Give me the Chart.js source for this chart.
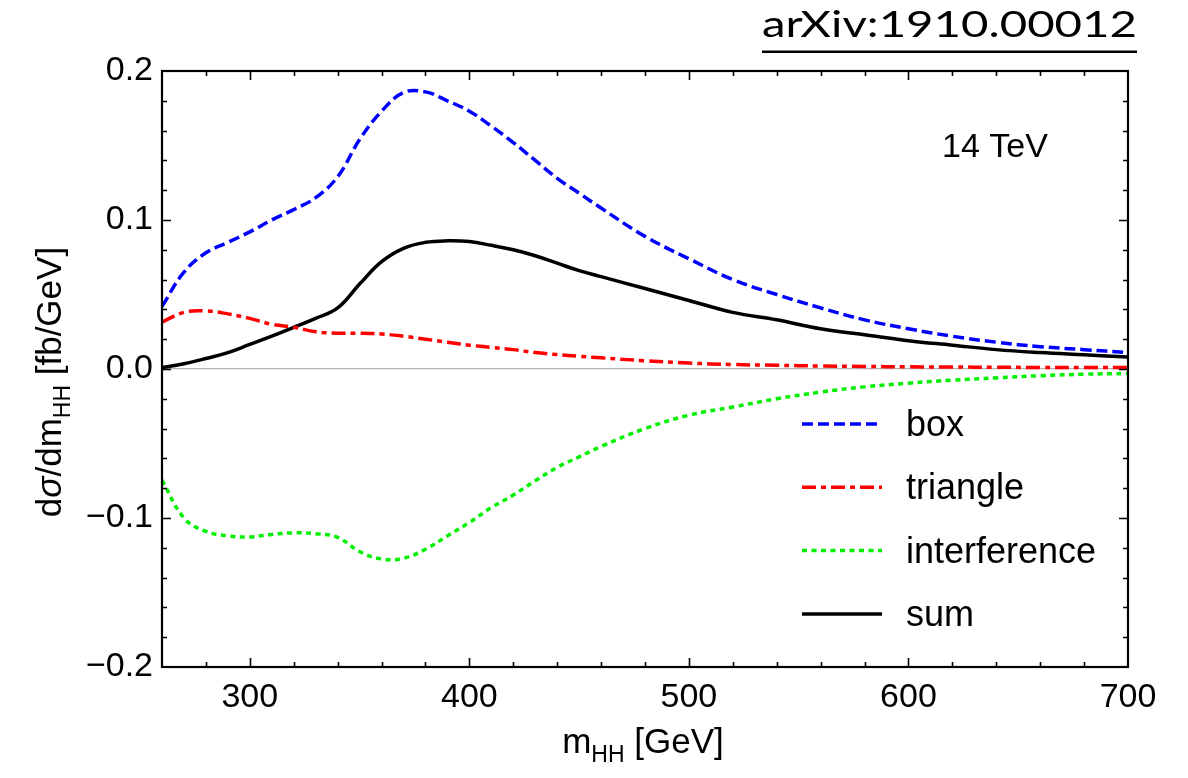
<!DOCTYPE html>
<html>
<head>
<meta charset="utf-8">
<script src="https://cdn.jsdelivr.net/npm/chart.js@4.4.1/dist/chart.umd.min.js"></script>
<style>
  html, body { margin: 0; padding: 0; background: #fff; }
  #wrap { width: 1188px; height: 778px; }
</style>
</head>
<body>
<div id="wrap"><canvas id="chart" width="1188" height="778"></canvas></div>
<script>
// m_HH in GeV
const masses = [260, 270, 280, 290, 300, 310, 320, 330, 340, 350, 360, 370, 380, 390, 400,
  410, 420, 430, 440, 450, 460, 480, 500, 520, 540, 560, 580, 600, 620, 640, 660, 680, 700];

// dsigma/dm_HH in fb/GeV
const box = [0.042, 0.065, 0.078, 0.085, 0.092, 0.100, 0.107, 0.115, 0.129, 0.154, 0.173, 0.1855, 0.186,
  0.180, 0.173, 0.163, 0.152, 0.140, 0.128, 0.118, 0.108, 0.089, 0.074, 0.060, 0.050, 0.041, 0.033,
  0.027, 0.022, 0.018, 0.015, 0.013, 0.011];
const triangle = [0.0315, 0.038, 0.039, 0.037, 0.034, 0.030, 0.028, 0.025, 0.024, 0.024, 0.0235, 0.022,
  0.020, 0.018, 0.016, 0.0145, 0.013, 0.011, 0.0097, 0.0085, 0.0075, 0.0055, 0.004, 0.003, 0.0025,
  0.002, 0.0017, 0.0015, 0.0013, 0.0012, 0.001, 0.001, 0.001];
const interference = [-0.0745, -0.100, -0.109, -0.112, -0.1127, -0.111, -0.110, -0.1105, -0.113,
  -0.1225, -0.1275, -0.127, -0.121, -0.112, -0.103, -0.093, -0.0846, -0.075, -0.066, -0.059, -0.052,
  -0.040, -0.031, -0.0255, -0.020, -0.0155, -0.012, -0.0095, -0.0075, -0.006, -0.0045, -0.0035, -0.003];
const sum = [0.001, 0.0035, 0.007, 0.011, 0.0165, 0.022, 0.028, 0.034, 0.041, 0.057, 0.072, 0.081,
  0.085, 0.086, 0.0855, 0.083, 0.080, 0.076, 0.071, 0.066, 0.062, 0.054, 0.046, 0.038, 0.033, 0.027,
  0.023, 0.019, 0.016, 0.013, 0.011, 0.0095, 0.008];

const seriesNames = ["box", "triangle", "interference", "sum"];
const xMajor = [300, 400, 500, 600, 700];
const yMajor = [-0.2, -0.1, 0.0, 0.1, 0.2];

const FONT = "'Liberation Sans', Arial, Helvetica, sans-serif";

function pts(vals) {
  return masses.map((m, i) => ({ x: m, y: vals[i] }));
}

function isMajor(v, list) {
  return list.some((t) => Math.abs(t - v) < 1e-6);
}

// draws pieces of text one after the other, centered on x
function drawPieces(ctx, pieces, x, y) {
  let w = 0;
  pieces.forEach((p) => { ctx.font = p.font; w += ctx.measureText(p.t).width; });
  let cx = x - w / 2;
  pieces.forEach((p) => {
    ctx.font = p.font;
    ctx.fillText(p.t, cx, y + (p.dy || 0));
    cx += ctx.measureText(p.t).width;
  });
}

const framePlugin = {
  id: "frame",
  afterDraw(chart) {
    const ctx = chart.ctx;
    const a = chart.chartArea;
    const xs = chart.scales.x, ys = chart.scales.y;
    ctx.save();

    // inward ticks on all four sides
    ctx.strokeStyle = "#000";
    ctx.lineWidth = 1.6;
    ctx.beginPath();
    xs.ticks.forEach((t) => {
      if (t.value <= xs.min || t.value >= xs.max) return;
      const px = Math.round(xs.getPixelForValue(t.value)) + 0.5;
      const len = isMajor(t.value, xMajor) ? 9 : 5;
      ctx.moveTo(px, a.bottom); ctx.lineTo(px, a.bottom - len);
      ctx.moveTo(px, a.top); ctx.lineTo(px, a.top + len);
    });
    ys.ticks.forEach((t) => {
      if (t.value <= ys.min + 1e-9 || t.value >= ys.max - 1e-9) return;
      const py = Math.round(ys.getPixelForValue(t.value)) + 0.5;
      const len = isMajor(t.value, yMajor) ? 9 : 5;
      ctx.moveTo(a.left, py); ctx.lineTo(a.left + len, py);
      ctx.moveTo(a.right, py); ctx.lineTo(a.right - len, py);
    });
    ctx.stroke();

    // frame
    ctx.lineWidth = 2.2;
    ctx.strokeRect(a.left, a.top, a.right - a.left, a.bottom - a.top);

    // legend
    ctx.textAlign = "left";
    ctx.textBaseline = "alphabetic";
    ctx.fillStyle = "#000";
    chart.data.datasets.forEach((ds, i) => {
      const y = 424 + i * 63.3;
      ctx.strokeStyle = ds.borderColor;
      ctx.lineWidth = ds.borderWidth;
      ctx.setLineDash(ds.borderDash || []);
      ctx.beginPath();
      ctx.moveTo(802, y); ctx.lineTo(882, y);
      ctx.stroke();
      ctx.setLineDash([]);
      ctx.font = "36px " + FONT;
      ctx.fillText(ds.label, 906, y + 12);
    });

    // energy label
    ctx.font = "34px " + FONT;
    ctx.fillText("14 TeV", 942, 157);

    // axis titles
    drawPieces(ctx, [
      { t: "m", font: "35px " + FONT },
      { t: "HH", font: "23px " + FONT, dy: 9 },
      { t: " [GeV]", font: "35px " + FONT }
    ], 643, 753);

    ctx.save();
    ctx.translate(61, 382);
    ctx.rotate(-Math.PI / 2);
    drawPieces(ctx, [
      { t: "d", font: "35px " + FONT },
      { t: "\u03c3", font: "italic 35px " + FONT },
      { t: "/dm", font: "35px " + FONT },
      { t: "HH", font: "23px " + FONT, dy: 9 },
      { t: " [fb/GeV]", font: "35px " + FONT }
    ], 0, 0);
    ctx.restore();

    // arXiv reference, top right, underlined
    const ref = "arXiv:1910.00012";
    ctx.font = "36px Lato, 'Open Sans', sans-serif";
    const w = ctx.measureText(ref).width;
    const target = 375;
    ctx.save();
    ctx.translate(762, 37);
    ctx.scale(target / w, 1);
    ctx.fillText(ref, 0, 0);
    ctx.restore();
    ctx.fillRect(762, 50.5, target, 2.5);

    ctx.restore();
  }
};

const ctx = document.getElementById("chart").getContext("2d");
new Chart(ctx, {
  type: "line",
  data: {
    datasets: [
      { label: seriesNames[0], data: pts(box), borderColor: "#0000ff", borderDash: [11, 5] },
      { label: seriesNames[1], data: pts(triangle), borderColor: "#ff0000", borderDash: [14, 5, 5, 5] },
      { label: seriesNames[2], data: pts(interference), borderColor: "#00f000", borderDash: [5, 4.5] },
      { label: seriesNames[3], data: pts(sum), borderColor: "#000000", borderDash: [] }
    ].map((d) => Object.assign(d, {
      borderWidth: 3.5,
      pointRadius: 0,
      fill: false,
      tension: 0.4,
      borderCapStyle: "butt",
      borderJoinStyle: "round"
    }))
  },
  options: {
    responsive: false,
    animation: false,
    devicePixelRatio: 1,
    layout: { padding: { left: 0, top: 71, right: 60, bottom: 0 } },
    plugins: {
      legend: { display: false },
      tooltip: { enabled: false }
    },
    scales: {
      x: {
        type: "linear",
        min: 260,
        max: 700,
        afterFit: (s) => { s.height = 111; },
        border: { display: false },
        grid: { display: false, drawTicks: false, tickLength: 0 },
        ticks: {
          stepSize: 20,
          autoSkip: false,
          maxRotation: 0,
          padding: 10,
          color: "#000",
          font: { family: FONT, size: 34 },
          callback: (v) => (isMajor(v, xMajor) ? String(v) : "")
        }
      },
      y: {
        type: "linear",
        min: -0.2,
        max: 0.2,
        afterFit: (s) => { s.width = 162; },
        border: { display: false },
        grid: {
          drawTicks: false,
          tickLength: 0,
          lineWidth: 1.2,
          color: (c) => (c.tick && Math.abs(c.tick.value) < 1e-9 ? "#b4b4b4" : "rgba(0,0,0,0)")
        },
        ticks: {
          stepSize: 0.02,
          autoSkip: false,
          padding: 9,
          color: "#000",
          font: { family: FONT, size: 34 },
          callback: (v) => {
            if (!isMajor(v, yMajor)) return "";
            return (Math.round(v * 10) / 10).toFixed(1).replace("-", "\u2212").replace("\u22120.0", "0.0");
          }
        }
      }
    }
  },
  plugins: [framePlugin]
});
</script>
</body>
</html>
